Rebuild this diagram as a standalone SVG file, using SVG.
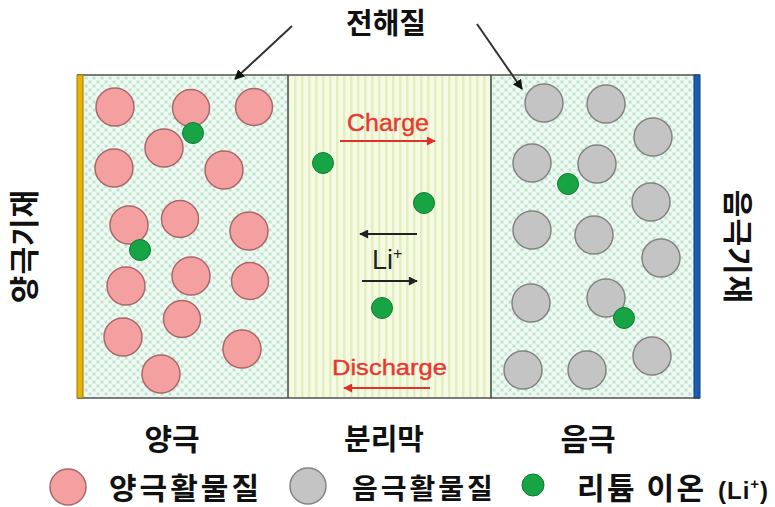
<svg xmlns="http://www.w3.org/2000/svg" width="775" height="507" viewBox="0 0 775 507">
<style>
.ko{font-family:"Noto Sans CJK KR","Noto Sans",sans-serif;font-weight:bold;fill:#111}
.lat{font-family:"Liberation Sans",Arial,sans-serif}
.pos{fill:#f5a0a0;stroke:#a86868;stroke-width:1.5}
.neg{fill:#c4c4c4;stroke:#838383;stroke-width:1.5}
.li{fill:#16a445;stroke:#0c7a30;stroke-width:1}
.red{stroke:#e0302a;stroke-width:2;fill:none}
.blk{stroke:#222;stroke-width:2;fill:none}
.lead{stroke:#333;stroke-width:2;fill:none}
</style>
<defs>
<pattern id="elec" width="8" height="8" patternUnits="userSpaceOnUse">
<rect width="8" height="8" fill="#eef9f3"/>
<rect x="0" y="0" width="4" height="4" fill="#dcf1e4"/>
<rect x="4" y="4" width="4" height="4" fill="#dcf1e4"/>
<circle cx="2" cy="2" r="0.9" fill="#a9dcbc"/>
<circle cx="6" cy="6" r="0.9" fill="#a9dcbc"/>
</pattern>
<pattern id="sep" width="7" height="10" patternUnits="userSpaceOnUse">
<rect width="7" height="10" fill="#f6fae4"/>
<rect x="0" width="2.5" height="10" fill="#e2efbf"/>
</pattern>
<marker id="ar" viewBox="0 0 10 10" refX="9" refY="5" markerWidth="5" markerHeight="4.5" orient="auto" markerUnits="strokeWidth">
<path d="M0,0 L10,5 L0,10 z" fill="#e0302a"/>
</marker>
<marker id="ab" viewBox="0 0 10 10" refX="9" refY="5" markerWidth="5" markerHeight="4.5" orient="auto" markerUnits="strokeWidth">
<path d="M0,0 L10,5 L0,10 z" fill="#222"/>
</marker>
<marker id="al" viewBox="0 0 10 10" refX="9" refY="5" markerWidth="5" markerHeight="5" orient="auto" markerUnits="strokeWidth">
<path d="M0,0 L10,5 L0,10 z" fill="#111"/>
</marker>
</defs>

<g id="cell">
<rect x="80" y="75" width="208" height="323" fill="url(#elec)"/>
<rect x="288" y="75" width="203" height="323" fill="url(#sep)"/>
<rect x="491" y="75" width="204" height="323" fill="url(#elec)"/>
<rect x="78" y="75" width="621" height="323" fill="none" stroke="#7a7a7a" stroke-width="2"/>
<line x1="288" y1="75" x2="288" y2="398" stroke="#4a4a4a" stroke-width="1.5"/>
<line x1="491" y1="75" x2="491" y2="398" stroke="#3a4a3a" stroke-width="1.5"/>
<rect id="cathode-collector" x="77" y="75" width="6" height="323" fill="#e8b400" stroke="#9a7a10" stroke-width="1"/>
<rect id="anode-collector" x="694" y="75" width="6" height="323" fill="#1b5cae" stroke="#123d78" stroke-width="1"/>
</g>

<g id="cathode-particles">
<circle class="pos" cx="115" cy="107" r="19"/>
<circle class="pos" cx="191" cy="108" r="18.5"/>
<circle class="pos" cx="254" cy="107" r="18.5"/>
<circle class="pos" cx="164" cy="148" r="19"/>
<circle class="pos" cx="114" cy="168" r="19"/>
<circle class="pos" cx="224" cy="170" r="19"/>
<circle class="pos" cx="129" cy="225" r="19"/>
<circle class="pos" cx="180" cy="219" r="18.5"/>
<circle class="pos" cx="249" cy="231" r="19"/>
<circle class="pos" cx="126" cy="286" r="19"/>
<circle class="pos" cx="191" cy="276" r="19"/>
<circle class="pos" cx="250" cy="281" r="18.5"/>
<circle class="pos" cx="182" cy="319" r="18.5"/>
<circle class="pos" cx="123" cy="337" r="19"/>
<circle class="pos" cx="242" cy="349" r="19"/>
<circle class="pos" cx="161" cy="374" r="19"/>
</g>

<g id="anode-particles">
<circle class="neg" cx="544" cy="103" r="19"/>
<circle class="neg" cx="606" cy="104" r="19"/>
<circle class="neg" cx="653" cy="137" r="19"/>
<circle class="neg" cx="532" cy="163" r="19"/>
<circle class="neg" cx="597" cy="164" r="19"/>
<circle class="neg" cx="651" cy="202" r="19"/>
<circle class="neg" cx="532" cy="230" r="19"/>
<circle class="neg" cx="594" cy="235" r="19"/>
<circle class="neg" cx="661" cy="258" r="19"/>
<circle class="neg" cx="531" cy="303" r="19"/>
<circle class="neg" cx="606" cy="298" r="19"/>
<circle class="neg" cx="652" cy="356" r="19"/>
<circle class="neg" cx="523" cy="370" r="19"/>
<circle class="neg" cx="587" cy="370" r="19"/>
</g>

<g id="lithium-ions">
<circle class="li" cx="193" cy="133" r="10.5"/>
<circle class="li" cx="140" cy="250" r="10.5"/>
<circle class="li" cx="323" cy="163" r="10.5"/>
<circle class="li" cx="424" cy="203" r="10.5"/>
<circle class="li" cx="382" cy="308" r="10.5"/>
<circle class="li" cx="568" cy="184" r="10.5"/>
<circle class="li" cx="624" cy="318" r="10.5"/>
</g>

<g id="connectors">
<line class="lead" x1="292" y1="26" x2="235" y2="79" marker-end="url(#al)"/>
<line class="lead" x1="477" y1="24" x2="522" y2="89" marker-end="url(#al)"/>
<line class="red" x1="340" y1="141" x2="435" y2="141" marker-end="url(#ar)"/>
<line class="red" x1="430" y1="388" x2="344" y2="388" marker-end="url(#ar)"/>
<line class="blk" x1="417" y1="234" x2="360" y2="234" marker-end="url(#ab)"/>
<line class="blk" x1="362" y1="281" x2="417" y2="281" marker-end="url(#ab)"/>
</g>

<g id="separator-labels">
<text class="lat" x="347" y="131" font-size="23" fill="#e53a34" stroke="#e53a34" stroke-width="0.4" textLength="82" lengthAdjust="spacingAndGlyphs">Charge</text>
<text class="lat" x="332" y="375" font-size="22" fill="#e53a34" stroke="#e53a34" stroke-width="0.4" textLength="115" lengthAdjust="spacingAndGlyphs">Discharge</text>
<text class="lat" x="372" y="269" font-size="27" fill="#222">Li<tspan font-size="16" dy="-10">+</tspan></text>
</g>

<g id="labels">
<text class="ko" x="386" y="34" font-size="29" text-anchor="middle">전해질</text>
<text class="ko" x="0" y="0" font-size="30" letter-spacing="1" text-anchor="middle" transform="translate(35,246) rotate(-90)">양극기재</text>
<text class="ko" x="0" y="0" font-size="30" letter-spacing="1" text-anchor="middle" transform="translate(727,247) rotate(90)">음극기재</text>
<text class="ko" x="172" y="450" font-size="30" text-anchor="middle">양극</text>
<text class="ko" x="384" y="450" font-size="29" text-anchor="middle">분리막</text>
<text class="ko" x="588" y="450" font-size="30" text-anchor="middle">음극</text>
</g>

<g id="legend">
<circle class="pos" cx="68" cy="487" r="18"/>
<text class="ko" x="109" y="499" font-size="30" letter-spacing="3">양극활물질</text>
<circle class="neg" cx="308" cy="486" r="18"/>
<text class="ko" x="352" y="499" font-size="28" letter-spacing="3">음극활물질</text>
<circle class="li" cx="533" cy="485" r="11"/>
<text class="ko" x="577" y="499" font-size="30" letter-spacing="2.5">리튬 이온</text>
<text class="lat" x="718" y="499" font-size="24" font-weight="bold" fill="#111" letter-spacing="1">(Li<tspan font-size="15" dy="-10">+</tspan><tspan dy="10">)</tspan></text>
</g>
</svg>
